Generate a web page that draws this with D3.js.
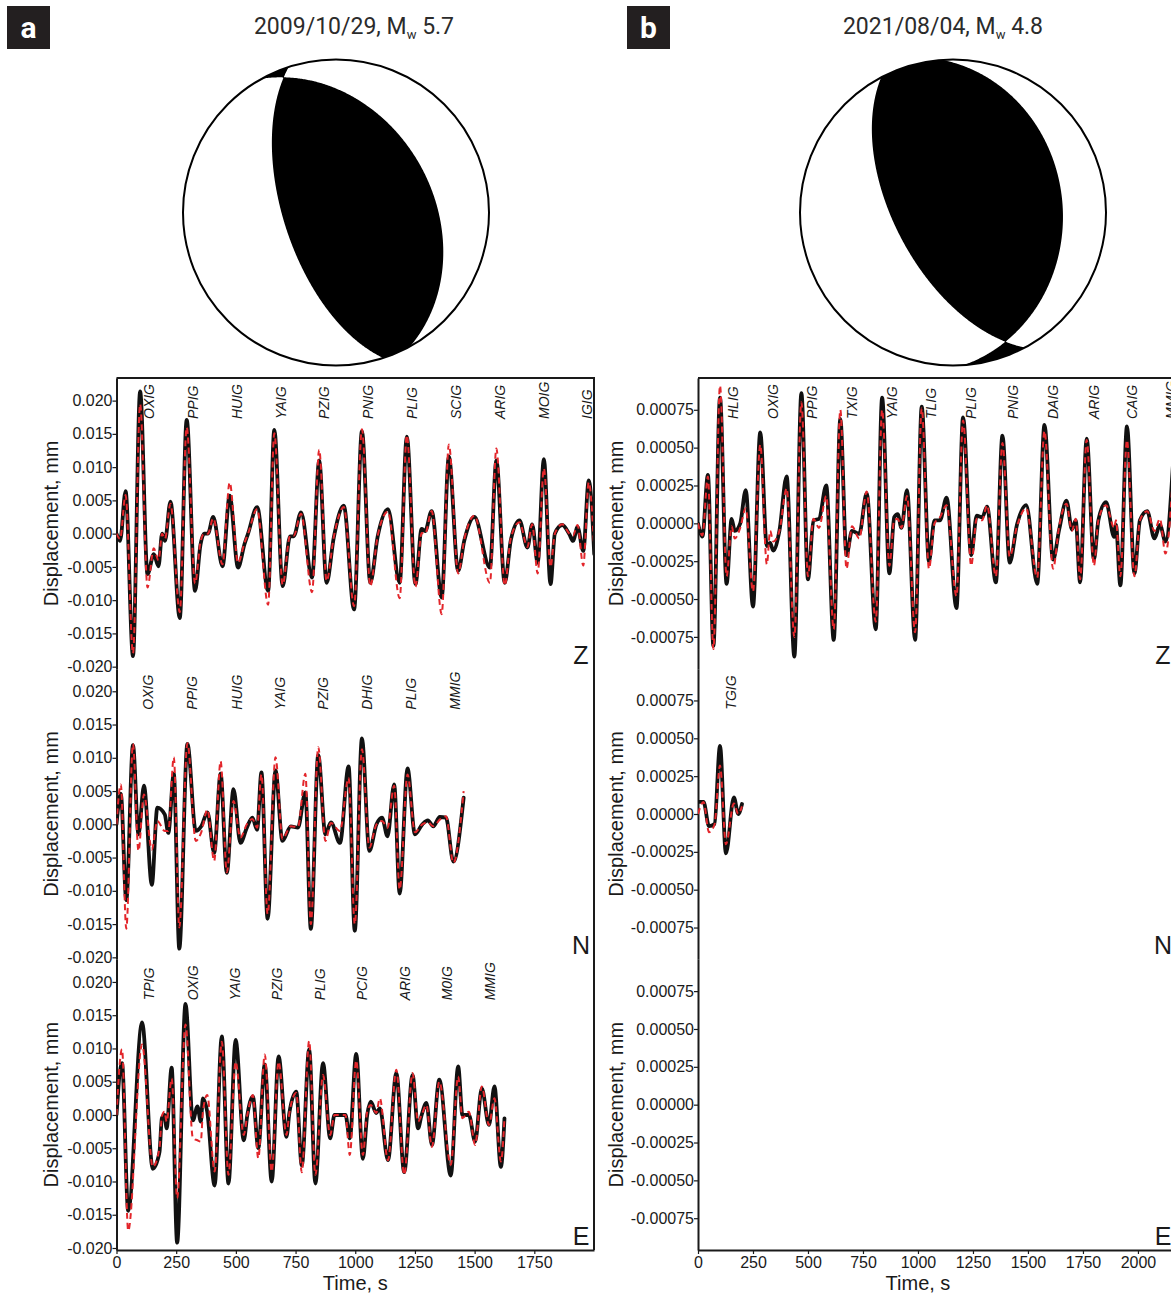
<!DOCTYPE html>
<html>
<head>
<meta charset="utf-8">
<script src="https://cdn.jsdelivr.net/npm/d3@7"></script>
<style>
  body { margin: 0; background: #fff; }
  svg text { font-family: "Liberation Sans", Arial, sans-serif; fill: #1a1a1a; }
</style>
</head>
<body>
<svg id="chart" width="1171" height="1295"></svg>
<script>
// DATA

var eventDates = ["2009/10/29", "2021/08/04"];
var eventMw = ["5.7", "4.8"];

// nodal planes [strike, dip] in degrees (right-hand rule)
var planesA = [[162, 62], [331, 37]];
var planesB = [[152, 59], [356, 29]];

var xTicksA = [0, 250, 500, 750, 1000, 1250, 1500, 1750];
var xTicksB = [0, 250, 500, 750, 1000, 1250, 1500, 1750, 2000];
var yTicksA = [0.02, 0.015, 0.01, 0.005, 0, -0.005, -0.01, -0.015, -0.02];
var yTicksB = [0.00075, 0.0005, 0.00025, 0, -0.00025, -0.0005, -0.00075];
var components = ["Z", "N", "E"];

// panel a, Z
var stationsAZ = ["OXIG", "PPIG", "HUIG", "YAIG", "PZIG", "PNIG", "PLIG", "SCIG", "ARIG", "MOIG", "IGIG"];
var stationTimeAZ = [138, 321, 505, 689, 869, 1052, 1239, 1420, 1607, 1790, 1971];
var timeAZ = [0, 15, 38, 69, 99, 130, 156, 176, 191, 203, 226, 265, 294, 329, 352, 367, 383, 405, 444, 474,
  509, 536, 551, 589, 635, 661, 696, 727, 742, 773, 819, 849, 880, 910, 952, 995, 1028, 1063, 1094, 1137,
  1186, 1216, 1252, 1278, 1293, 1320, 1362, 1392, 1431, 1457, 1499, 1564, 1591, 1626, 1652, 1688, 1721, 1741, 1764, 1790,
  1818, 1836, 1867, 1897, 1912, 1931, 1955, 1978, 2001];
var obsAZ = [0, -0.0011, 0.0064, -0.0184, 0.0214, -0.0061, -0.0031, -0.0049, 0, -0.0011, 0.0048, -0.0127, 0.0171, -0.0086, -0.0016, 0, 0, 0.0025, -0.0049, 0.0057,
  -0.0051, -0.0016, 0, 0.004, -0.0086, 0.0156, -0.0079, -0.0004, -0.0004, 0.0032, -0.0066, 0.011, -0.0074, -0.0006, 0.0042, -0.0114, 0.0154, -0.0074, -0.0004, 0.0037,
  -0.0074, 0.0146, -0.0076, 0.0007, 0.0004, 0.0034, -0.0096, 0.0116, -0.0056, -0.001, 0.0025, -0.0051, 0.011, -0.0074, -0.0009, 0.002, -0.0021, 0.0014, -0.0044, 0.0112,
  -0.0076, 0, 0.0013, -0.0001, -0.0011, 0.001, -0.0026, 0.008, -0.0031];
var synAZ = [0, -0.0008, 0.0058, -0.018, 0.0195, -0.0081, -0.0022, -0.004, 0, -0.0008, 0.0045, -0.0118, 0.016, -0.0075, -0.0012, 0, 0, 0.0023, -0.0046, 0.0077,
  -0.0044, -0.0014, 0, 0.0037, -0.0107, 0.0151, -0.0077, -0.0003, -0.0003, 0.003, -0.0088, 0.0126, -0.0071, -0.0005, 0.004, -0.0109, 0.0157, -0.0079, -0.0003, 0.0033,
  -0.0097, 0.0148, -0.008, 0.0001, 0, 0.0034, -0.0121, 0.0134, -0.006, -0.0008, 0.0027, -0.0074, 0.0128, -0.0078, -0.0006, 0.0017, -0.002, 0.0014, -0.006, 0.0098,
  -0.005, 0, 0.0014, 0, -0.0003, 0.0013, -0.0048, 0.0077, -0.0025];

// panel a, N
var stationsAN = ["OXIG", "PPIG", "HUIG", "YAIG", "PZIG", "DHIG", "PLIG", "MMIG"];
var stationTimeAN = [133, 317, 503, 684, 864, 1048, 1235, 1418];
var timeAN = [0, 18, 41, 69, 92, 115, 148, 171, 202, 217, 240, 263, 297, 332, 355, 381, 409, 436, 462, 490,
  519, 546, 569, 589, 607, 633, 666, 695, 730, 760, 791, 814, 845, 875, 898, 936, 972, 998, 1028, 1059,
  1089, 1112, 1135, 1163, 1186, 1219, 1250, 1281, 1304, 1327, 1354, 1380, 1411, 1454];
var obsAN = [0, 0.0046, -0.0114, 0.0119, -0.0015, 0.0058, -0.0091, 0.0025, 0.0015, -0.0013, 0.0076, -0.0187, 0.0121, -0.001, -0.0003, 0.0018, -0.0043, 0.0076, -0.0073, 0.0053,
  -0.0028, -0.0005, 0.001, -0.0008, 0.0078, -0.0142, 0.0081, -0.0025, -0.0003, -0.0005, 0.0048, -0.0157, 0.0104, -0.0015, 0.0003, -0.0028, 0.0087, -0.016, 0.0129, -0.004,
  0, 0.001, -0.0018, 0.006, -0.0104, 0.0084, -0.0015, 0, 0.0006, -0.0003, 0.0011, 0.001, -0.0056, 0.004];
var synAN = [0, 0.006, -0.0157, 0.0121, -0.004, 0.0045, -0.0038, 0.0005, -0.001, -0.001, 0.0101, -0.0155, 0.0122, -0.0025, -0.0012, 0.0022, -0.0055, 0.0095, -0.0072, 0.0035,
  -0.002, 0, 0.0008, -0.0005, 0.0075, -0.0135, 0.0101, -0.0022, -0.0003, -0.0004, 0.0076, -0.015, 0.0116, -0.0025, 0.0002, -0.001, 0.007, -0.015, 0.0113, -0.0035,
  0, 0.0005, -0.0005, 0.0058, -0.0098, 0.0075, -0.0012, 0, 0.0003, -0.0003, 0.0007, 0.0012, -0.0058, 0.005];

// panel a, E
var stationsAE = ["TPIG", "OXIG", "YAIG", "PZIG", "PLIG", "PCIG", "ARIG", "M0IG", "MMIG"];
var stationTimeAE = [137, 320, 495, 674, 852, 1027, 1210, 1385, 1565];
var timeAE = [0, 23, 49, 107, 152, 180, 190, 201, 210, 231, 254, 289, 320, 339, 353, 362, 380, 411, 441, 469,
  499, 533, 548, 571, 594, 621, 650, 679, 712, 724, 753, 776, 807, 833, 865, 895, 913, 959, 977, 1004,
  1032, 1050, 1065, 1088, 1103, 1137, 1172, 1205, 1240, 1263, 1278, 1298, 1321, 1352, 1400, 1431, 1449, 1476, 1502, 1530,
  1560, 1583, 1610, 1625];
var obsAE = [0, 0.0078, -0.0144, 0.0139, -0.0081, -0.0056, -0.0005, 0, -0.002, 0.0071, -0.0192, 0.0167, -0.0008, 0.0013, -0.001, 0.0025, 0.0005, -0.0106, 0.0118, -0.0103,
  0.0113, -0.0038, 0, 0.0028, -0.005, 0.0076, -0.01, 0.0088, -0.0033, 0.0003, 0.0035, -0.0076, 0.0099, -0.0103, 0.0078, -0.0035, 0, 0, -0.0035, 0.0092,
  -0.0066, 0, 0.002, 0.0003, 0.001, -0.0068, 0.0063, -0.0086, 0.006, -0.002, 0, 0.0018, -0.0045, 0.0053, -0.0091, 0.0073, 0, 0, -0.004, 0.004,
  -0.0015, 0.0043, -0.0078, -0.0005];
var synAE = [0, 0.0099, -0.0174, 0.0106, -0.0078, -0.005, -0.0002, 0.0005, -0.001, 0.0055, -0.0125, 0.0136, -0.0035, -0.0038, -0.004, 0.0005, 0.003, -0.0085, 0.011, -0.009,
  0.008, -0.003, 0, 0.003, -0.0065, 0.0091, -0.0085, 0.008, -0.003, 0.0003, 0.0033, -0.0086, 0.0111, -0.009, 0.006, -0.003, 0, 0, -0.006, 0.0082,
  -0.006, 0.0005, 0.0015, 0.0003, 0.0025, -0.0068, 0.0068, -0.009, 0.0063, -0.001, 0, 0.0015, -0.0048, 0.005, -0.0075, 0.0058, -0.0005, 0.0005, -0.0045, 0.0043,
  -0.0015, 0.0025, -0.007, -0.0005];

// panel b, Z
var stationsBZ = ["HLIG", "OXIG", "PPIG", "TXIG", "YAIG", "TLIG", "PLIG", "PNIG", "DAIG", "ARIG", "CAIG", "MMIG"];
var stationTimeBZ = [158, 342, 517, 700, 883, 1059, 1242, 1430, 1614, 1800, 1975, 2150];
var timeBZ = [0, 20, 45, 70, 100, 130, 153, 167, 192, 217, 250, 283, 313, 328, 342, 370, 403, 438, 470, 500,
  525, 550, 583, 617, 647, 675, 700, 733, 767, 808, 837, 870, 892, 908, 925, 950, 987, 1017, 1050, 1075,
  1100, 1130, 1175, 1205, 1242, 1267, 1292, 1314, 1354, 1384, 1417, 1450, 1492, 1542, 1575, 1614, 1642, 1675, 1700, 1717,
  1737, 1767, 1800, 1820, 1855, 1892, 1900, 1920, 1950, 1984, 2009, 2042, 2075, 2100, 2125, 2164];
var obsBZ = [0, -0.000087, 0.00032, -0.00081, 0.00083, -0.0004, 0.00003, -0.00005, 0, 0.00022, -0.00055, 0.0006, -0.00015, -0.00013, -0.00018, -0.00005, 0.00031, -0.00088, 0.00086, -0.00037,
  0.00002, 0.00003, 0.00025, -0.00077, 0.00069, -0.00021, -0.00005, -0.00007, 0.0002, -0.0007, 0.00083, -0.00033, 0.00004, 0.00006, -0.00003, 0.00022, -0.00077, 0.00077, -0.00025, 0.00002,
  0.00002, 0.00017, -0.00056, 0.0007, -0.00021, 0.00005, 0.00004, 0.00011, -0.00039, 0.00058, -0.00026, -0.00001, 0.00012, -0.0004, 0.00065, -0.00024, -0.00004, 0.00015, -0.00004, 0.00002,
  -0.00039, 0.00056, -0.00024, 0.00002, 0.00014, -0.00009, -0.00001, -0.00041, 0.00064, -0.00033, 0.00002, 0.00008, -0.0001, -0.00001, -0.00012, 0.0005];
var synBZ = [0, -0.00008, 0.00031, -0.00083, 0.00091, -0.00035, -0.00002, -0.0001, -0.00003, 0.0001, -0.00045, 0.00052, -0.00027, -0.00005, -0.00012, -0.00005, 0.00023, -0.00075, 0.0008, -0.00035,
  0.00003, -0.00003, 0.00018, -0.0007, 0.00075, -0.0003, -0.00002, -0.0001, 0.00021, -0.00065, 0.00075, -0.00028, 0.00002, 0.00003, -0.00003, 0.00018, -0.00072, 0.00076, -0.0003, 0,
  0.00004, 0.00012, -0.00048, 0.00068, -0.00028, 0.00003, 0.00002, 0.00012, -0.00035, 0.00053, -0.00022, -0.00002, 0.0001, -0.00036, 0.00061, -0.0003, -0.00002, 0.00013, -0.00005, 0.00003,
  -0.00037, 0.00055, -0.00028, 0.00002, 0.00012, -0.00003, 0.00002, -0.00035, 0.00055, -0.00035, 0.00002, 0.00008, -0.00005, 0.00003, -0.0002, 0.00045];

// panel b, N
var stationsBN = ["TGIG"];
var stationTimeBN = [150];
var timeBN = [0, 25, 50, 75, 100, 127, 163, 183, 200];
var obsBN = [0.00008, 0.00008, -0.00008, -0.000066, 0.00045, -0.00026, 0.00011, 0, 0.000066];
var synBN = [0, 0.00008, -0.00012, -0.00007, 0.00032, -0.0002, 0.00007, 0, 0.00005];

// LAYOUT

var svg = d3.select("#chart");
var panelTop = 378, panelBottom = 1250;
var rowH = (panelBottom - panelTop) / 3;

var panels = [
  {
    letter: "a", boxX: 7, titleX: 354, date: eventDates[0], mw: eventMw[0],
    ball: {cx: 336, cy: 212.5, r: 153, planes: planesA},
    left: 116.5, right: 594, tMax: 2000, xTicks: xTicksA,
    yDomain: [-0.0203, 0.0234], yTicks: yTicksA, dec: 3, ylabX: 51,
    rows: [
      {t: timeAZ, obs: obsAZ, syn: synAZ, st: stationsAZ, stT: stationTimeAZ},
      {t: timeAN, obs: obsAN, syn: synAN, st: stationsAN, stT: stationTimeAN},
      {t: timeAE, obs: obsAE, syn: synAE, st: stationsAE, stT: stationTimeAE}
    ]
  },
  {
    letter: "b", boxX: 627, titleX: 943, date: eventDates[1], mw: eventMw[1],
    ball: {cx: 953, cy: 212.5, r: 153, planes: planesB},
    left: 698, right: 1176, tMax: 2173, xTicks: xTicksB,
    yDomain: [-0.00096, 0.00096], yTicks: yTicksB, dec: 5, ylabX: 615.5,
    rows: [
      {t: timeBZ, obs: obsBZ, syn: synBZ, st: stationsBZ, stT: stationTimeBZ},
      {t: timeBN, obs: obsBN, syn: synBN, st: stationsBN, stT: stationTimeBN},
      {t: [], obs: [], syn: [], st: [], stT: []}
    ]
  }
];

// BEACHBALL (lower hemisphere, equal area): black where both planes give the same sign

function planeNormal(pl) {
  var s = pl[0] * Math.PI / 180, d = pl[1] * Math.PI / 180;
  return [-Math.sin(d) * Math.sin(s), Math.sin(d) * Math.cos(s), -Math.cos(d)];
}
function dot(u, v) { return u[0] * v[0] + u[1] * v[1] + u[2] * v[2]; }

function drawBeachball(g, ball, id) {
  var n1 = planeNormal(ball.planes[0]), n2 = planeNormal(ball.planes[1]);

  var n = 300, ext = 1.04;
  var values = new Array(n * n);
  for (var j = 0; j < n; j++) {
    for (var i = 0; i < n; i++) {
      var east = ((i + 0.5) / n * 2 - 1) * ext;
      var north = -((j + 0.5) / n * 2 - 1) * ext;
      var r = Math.sqrt(east * east + north * north);
      if (r > 1) { east /= r; north /= r; r = 1; }
      var theta = 2 * Math.asin(r / Math.SQRT2);
      var phi = Math.atan2(east, north);
      var v = [Math.sin(theta) * Math.cos(phi), Math.sin(theta) * Math.sin(phi), Math.cos(theta)];
      values[j * n + i] = dot(n1, v) * dot(n2, v);
    }
  }
  var contours = d3.contours().size([n, n]).thresholds([0])(values);
  var proj = d3.geoTransform({
    point: function (x, y) {
      this.stream.point(ball.cx + (x / n * 2 - 1) * ext * ball.r, ball.cy + (y / n * 2 - 1) * ext * ball.r);
    }
  });

  svg.append("clipPath").attr("id", id)
    .append("circle").attr("cx", ball.cx).attr("cy", ball.cy).attr("r", ball.r);

  g.append("circle").attr("cx", ball.cx).attr("cy", ball.cy).attr("r", ball.r).attr("fill", "#fff");
  g.append("g").attr("clip-path", "url(#" + id + ")")
    .selectAll("path")
    .data(contours)
    .join("path")
      .attr("d", d3.geoPath(proj))
      .attr("fill", "#000");
  g.append("circle").attr("cx", ball.cx).attr("cy", ball.cy).attr("r", ball.r)
    .attr("fill", "none").attr("stroke", "#000").attr("stroke-width", 2);
}

// DRAW

panels.forEach(function (p, pi) {
  var g = svg.append("g");

  // panel letter
  g.append("rect").attr("x", p.boxX).attr("y", 6).attr("width", 43).attr("height", 43).attr("fill", "#231f20");
  g.append("text").attr("x", p.boxX + 21.5).attr("y", 38).attr("text-anchor", "middle")
    .style("font-family", "Roboto, 'Open Sans', sans-serif").style("font-weight", "bold")
    .style("font-size", "30px").style("fill", "#fff").text(p.letter);

  // title
  var title = g.append("text").attr("x", p.titleX).attr("y", 34).attr("text-anchor", "middle")
    .style("font-family", "Roboto, 'Open Sans', sans-serif").style("font-size", "23px").style("fill", "#2b2b2b");
  title.append("tspan").text(p.date + ", M");
  title.append("tspan").attr("dy", 5).style("font-size", "13px").text("w");
  title.append("tspan").attr("dy", -5).text(" " + p.mw);

  drawBeachball(g, p.ball, "ball" + pi);

  var x = d3.scaleLinear().domain([0, p.tMax]).range([p.left, p.right]);

  svg.append("clipPath").attr("id", "plot" + pi)
    .append("rect").attr("x", p.left).attr("y", panelTop)
    .attr("width", p.right - p.left).attr("height", panelBottom - panelTop);

  p.rows.forEach(function (row, k) {
    var rowTop = panelTop + k * rowH;
    var y = d3.scaleLinear().domain(p.yDomain).range([rowTop + rowH, rowTop]);

    // y axis for this component
    var ax = g.append("g")
      .attr("transform", "translate(" + p.left + ",0)")
      .call(d3.axisLeft(y).tickValues(p.yTicks).tickSize(4).tickSizeOuter(0)
        .tickFormat(function (d) { return d.toFixed(p.dec); }));
    ax.select(".domain").attr("stroke", "#1a1a1a").attr("stroke-width", 2);
    ax.selectAll(".tick line").attr("stroke", "#1a1a1a").attr("stroke-width", 1.2);
    ax.selectAll(".tick text").attr("x", -4).style("font-family", "'Liberation Sans', Arial, sans-serif")
      .style("font-size", "16px").style("fill", "#1a1a1a");

    // y label
    g.append("text")
      .attr("transform", "translate(" + p.ylabX + "," + (rowTop + rowH / 2) + ") rotate(-90)")
      .attr("text-anchor", "middle").attr("dy", "0.35em")
      .style("font-size", "20px")
      .text("Displacement, mm");

    // component letter
    g.append("text").attr("x", p.right - 13).attr("y", rowTop + rowH - 5)
      .attr("text-anchor", "middle").style("font-size", "25px").text(components[k]);

    // waveforms
    var obsPts = row.t.map(function (t, i) { return [t, row.obs[i]]; });
    var synPts = row.t.map(function (t, i) { return [t, row.syn[i]]; });
    var line = d3.line()
      .x(function (d) { return x(d[0]); })
      .y(function (d) { return y(d[1]); })
      .curve(d3.curveMonotoneX);

    var wg = g.append("g").attr("clip-path", "url(#plot" + pi + ")");
    if (obsPts.length) {
      wg.append("path").datum(obsPts).attr("d", line)
        .attr("fill", "none").attr("stroke", "#111").attr("stroke-width", 3.8)
        .attr("stroke-linejoin", "round").attr("stroke-linecap", "round");
      wg.append("path").datum(synPts).attr("d", line)
        .attr("fill", "none").attr("stroke", "#e3262b").attr("stroke-width", 2)
        .attr("stroke-dasharray", "6,4");
    }

    // station names
    g.selectAll(null)
      .data(row.st)
      .join("text")
        .attr("transform", function (d, i) {
          return "translate(" + (x(row.stT[i]) + 5) + "," + (rowTop + 41) + ") rotate(-90)";
        })
        .style("font-style", "italic").style("font-size", "14px")
        .text(function (d) { return d; });
  });

  // x axis
  var xa = g.append("g")
    .attr("transform", "translate(0," + panelBottom + ")")
    .call(d3.axisBottom(x).tickValues(p.xTicks).tickSize(4).tickSizeOuter(0).tickFormat(d3.format("d")));
  xa.select(".domain").attr("stroke", "#1a1a1a").attr("stroke-width", 2);
  xa.selectAll(".tick line").attr("stroke", "#1a1a1a").attr("stroke-width", 1.2);
  xa.selectAll(".tick text").style("font-family", "'Liberation Sans', Arial, sans-serif")
    .style("font-size", "16px").style("fill", "#1a1a1a");

  g.append("text").attr("x", x(1000)).attr("y", 1290).attr("text-anchor", "middle")
    .style("font-size", "20px").text("Time, s");

  // frame top and right
  g.append("path")
    .attr("d", "M" + p.left + "," + panelTop + "H" + p.right + "V" + panelBottom)
    .attr("fill", "none").attr("stroke", "#1a1a1a").attr("stroke-width", 2);
});
</script>
</body>
</html>
